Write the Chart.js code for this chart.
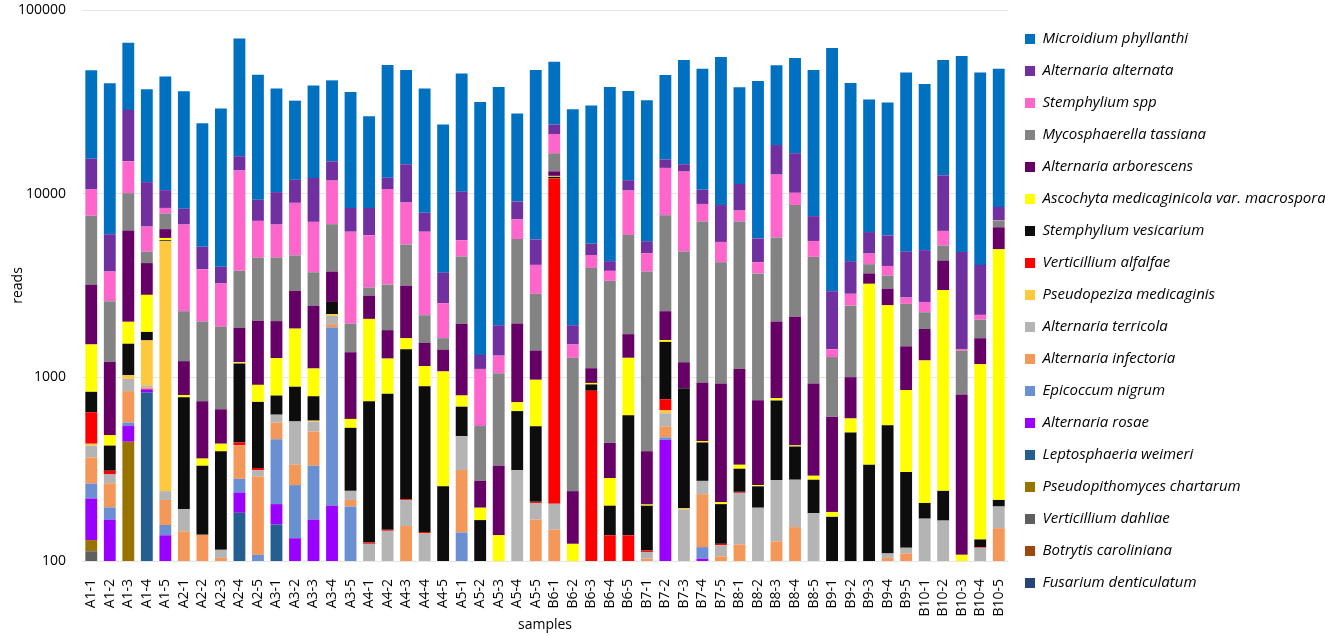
<!DOCTYPE html>
<html>
<head>
<meta charset="utf-8">
<script src="https://cdn.jsdelivr.net/npm/chart.js@4.4.1/dist/chart.umd.min.js"></script>
<style>
  html, body { margin: 0; padding: 0; background: #ffffff; }
  #wrap { position: relative; width: 1325px; height: 636px; }
</style>
</head>
<body>
<div id="wrap"><canvas id="c"></canvas></div>
<script>
// ---------- DATA ----------
const samples = ["A1-1","A1-2","A1-3","A1-4","A1-5","A2-1","A2-2","A2-3","A2-4","A2-5",
  "A3-1","A3-2","A3-3","A3-4","A3-5","A4-1","A4-2","A4-3","A4-4","A4-5",
  "A5-1","A5-2","A5-3","A5-4","A5-5","B6-1","B6-2","B6-3","B6-4","B6-5",
  "B7-1","B7-2","B7-3","B7-4","B7-5","B8-1","B8-2","B8-3","B8-4","B8-5",
  "B9-1","B9-2","B9-3","B9-4","B9-5","B10-1","B10-2","B10-3","B10-4","B10-5"];

const yTicks = [100, 1000, 10000, 100000];

// series listed bottom of stack -> top of stack
const fusariumDenticulatum = [0,0,0,0,0, 0,0,0,0,0, 0,0,0,0,0, 0,0,0,0,0, 0,0,0,0,0, 0,0,0,0,0, 0,0,0,0,0, 0,0,0,0,0, 0,0,0,0,0, 0,0,0,0,0];
const botrytisCaroliniana = [0,0,0,0,0, 0,0,0,0,0, 0,0,0,0,0, 0,0,0,0,0, 0,0,0,0,0, 0,0,0,0,0, 0,0,0,0,0, 0,0,0,0,0, 0,0,0,0,0, 0,0,0,0,0];
const verticilliumDahliae = [113,0,0,0,0, 0,0,0,0,0, 0,0,0,0,0, 0,0,0,0,0, 0,0,0,0,0, 0,0,0,0,0, 0,0,0,0,0, 0,0,0,0,0, 0,0,0,0,0, 0,0,0,0,0];
const pseudopithomyces = [17,0,446,0,0, 0,0,0,0,0, 0,0,0,0,0, 0,0,0,0,0, 0,0,0,0,0, 0,0,0,0,0, 0,0,0,0,0, 0,0,0,0,0, 0,0,0,0,0, 0,0,0,0,0];
const leptosphaeria = [0,0,0,826,0, 0,0,0,183,0, 158,0,0,0,0, 0,0,0,0,0, 0,0,0,0,0, 0,0,0,0,0, 0,0,0,0,0, 0,0,0,0,0, 0,0,0,0,0, 0,0,0,0,0];
const alternariaRosae = [89,168,97,35,138, 0,0,0,53,0, 46,133,168,200,0, 0,0,0,0,0, 0,0,0,0,0, 0,0,0,0,0, 0,456,0,103,0, 0,0,0,0,0, 0,0,0,0,0, 0,0,0,0,0];
const epicoccumNigrum = [45,28,24,0,19, 0,4,0,44,108, 256,126,162,1666,198, 0,0,0,0,0, 143,0,0,0,0, 0,0,0,0,0, 0,15,0,16,0, 0,0,0,0,0, 0,0,0,0,0, 0,0,0,0,0];
const alternariaInfectoria = [102,69,274,20,58, 145,135,104,147,181, 107,75,177,82,17, 0,0,155,0,0, 170,0,0,0,168, 148,0,0,0,0, 103,70,0,112,106, 123,0,128,153,0, 0,0,0,104,110, 0,0,0,2,151];
const alternariaTerricola = [59,31,139,21,25, 47,0,11,0,23, 59,241,66,211,26, 124,146,59,142,0, 165,0,0,312,39, 57,0,0,0,0, 9,96,191,42,16, 112,195,148,124,182, 0,0,0,6,8, 170,166,0,116,47];
const pseudopeziza = [10,0,46,687,5290, 0,0,0,0,0, 0,0,8,49,0, 0,0,0,0,0, 0,0,0,0,0, 0,0,0,0,0, 0,24,3,0,0, 0,0,0,0,0, 0,0,0,0,0, 0,0,0,0,0];
const verticilliumAlfalfae = [211,14,0,0,0, 0,0,0,15,9, 0,0,0,0,0, 2,2,3,2,0, 0,0,0,0,3, 11900,0,845,138,138, 2,99,0,0,2, 3,0,0,0,0, 0,0,0,0,0, 0,0,0,1,0];
const stemphyliumVesicarium = [188,115,498,178,50, 586,191,281,749,414, 170,314,208,365,290, 615,667,1205,749,255, 214,167,0,343,331, 250,0,70,62,484, 86,800,679,169,80, 80,60,472,143,95, 174,500,334,438,187, 37,75,0,12,17];
const ascochyta = [676,59,481,1045,160, 22,31,39,17,175, 475,952,328,0,63, 1339,450,211,260,822, 104,28,138,77,429, 140,124,17,83,655, 3,36,0,8,5, 16,4,22,6,14, 11,97,2894,1918,548, 1029,2744,108,1049,4765];
const alternariaArborescens = [1675,729,4290,1376,670, 425,380,235,650,1123, 752,1117,1338,1194,774, 706,542,1522,385,339, 1162,78,192,1234,430, 730,116,189,157,441, 193,695,335,485,718, 777,492,1243,1712,636, 426,405,452,574,622, 597,1340,699,453,1580];
const mycosphaerella = [4401,1381,3765,646,1390, 1066,1272,1214,1942,2455, 2465,1655,1278,3053,590, 299,1392,2125,640,218, 2590,270,722,3694,1450, 3380,1037,2824,2910,4240, 3371,5330,3640,6115,3300, 5940,2930,3757,6530,3600, 678,1453,450,540,1037, 428,885,593,427,590];
const stemphyliumSpp = [2954,1173,4940,1786,560, 4500,1860,1359,9570,2622, 2300,4300,3290,4960,4250, 2845,7390,3670,4030,902, 1030,568,261,1580,1245, 4520,233,690,450,4440, 978,6190,8340,1740,1233, 1040,547,6930,1440,1000, 133,395,590,460,208, 312,1060,28,128,40];
const alternariaAlternata = [4950,2245,13580,4940,2090, 1495,1267,757,2620,2160, 3410,2980,5150,3220,2150, 2430,1630,5510,1660,1179, 4680,214,609,1840,1545, 2640,412,695,490,1440, 765,1540,1270,1700,3210, 3210,1483,5700,6500,2020, 1522,1440,1460,1890,2130, 2356,6320,3380,1907,1280];
const microidium = [31500,33900,37660,25500,33000, 27800,19070,25100,54000,35200, 27200,20200,26600,26400,27400, 18060,37900,32700,29500,20070, 34840,30200,36200,18200,41560, 28500,26900,24900,33800,24400, 26760,28900,39000,37400,46800, 26640,35300,31700,38100,39650, 59200,35800,26400,25400,40850, 34600,40900,51400,41600,39400];

const speciesNames = ["Fusarium denticulatum","Botrytis caroliniana","Verticillium dahliae","Pseudopithomyces chartarum",
  "Leptosphaeria weimeri","Alternaria rosae","Epicoccum nigrum","Alternaria infectoria","Alternaria terricola",
  "Pseudopeziza medicaginis","Verticillium alfalfae","Stemphylium vesicarium","Ascochyta medicaginicola var. macrospora",
  "Alternaria arborescens","Mycosphaerella tassiana","Stemphylium spp","Alternaria alternata","Microidium phyllanthi"];
const speciesValues = [fusariumDenticulatum, botrytisCaroliniana, verticilliumDahliae, pseudopithomyces, leptosphaeria,
  alternariaRosae, epicoccumNigrum, alternariaInfectoria, alternariaTerricola, pseudopeziza, verticilliumAlfalfae,
  stemphyliumVesicarium, ascochyta, alternariaArborescens, mycosphaerella, stemphyliumSpp, alternariaAlternata, microidium];
const speciesColors = ["#264478","#9E480E","#5F5F5F","#997300","#255E91","#9900FF","#6A8FD3","#F4985A","#B4B4B4",
  "#FFC83D","#FF0000","#0D0D0D","#FFFF00","#660066","#838383","#FF66CC","#7030A0","#0070C0"];

// ---------- CHART ----------
Chart.defaults.font.family = "'Open Sans', 'Liberation Sans', sans-serif";
Chart.defaults.color = "#1a1a1a";

const datasets = speciesNames.map((name, i) => ({
  label: name,
  data: speciesValues[i],
  backgroundColor: speciesColors[i],
  borderWidth: 0,
  barPercentage: 0.64,
  categoryPercentage: 1.0
}));

new Chart(document.getElementById('c'), {
  type: 'bar',
  data: { labels: samples, datasets },
  options: {
    responsive: true,
    maintainAspectRatio: false,
    animation: false,
    layout: { padding: { top: 10, bottom: 0, left: 0, right: 0 } },
    plugins: {
      tooltip: { enabled: false },
      legend: {
        position: 'right',
        align: 'start',
        reverse: true,
        maxWidth: 317,
        title: { display: true, text: '', font: { size: 2 }, padding: { top: 0, bottom: 2.1 } },
        labels: {
          boxWidth: 10,
          boxHeight: 10,
          padding: 17,
          color: '#000',
          font: { size: 15, style: 'italic' }
        }
      }
    },
    scales: {
      x: {
        stacked: true,
        grid: { display: false },
        border: { display: false },
        ticks: { autoSkip: false, maxRotation: 90, minRotation: 90, padding: 10, font: { size: 14 }, color: '#000' },
        title: { display: true, text: 'samples', font: { size: 14 }, color: '#000', padding: { top: 0, bottom: 2.6 } },
        afterFit: (s) => { s.height = 75; }
      },
      y: {
        type: 'logarithmic',
        stacked: true,
        min: 100,
        max: 100000,
        afterBuildTicks: (s) => { s.ticks = yTicks.map(v => ({ value: v })); },
        ticks: { padding: 16, font: { size: 14 }, color: '#000', callback: (v) => String(v) },
        grid: { color: '#e6e6e6', lineWidth: 1, drawTicks: false },
        border: { display: false },
        title: { display: true, text: 'reads', font: { size: 14 }, color: '#000', padding: { top: 10, bottom: 0 } },
        afterFit: (s) => { s.width = 82; s.paddingTop = 0; s.paddingBottom = 0; }
      }
    }
  }
});
</script>
</body>
</html>
